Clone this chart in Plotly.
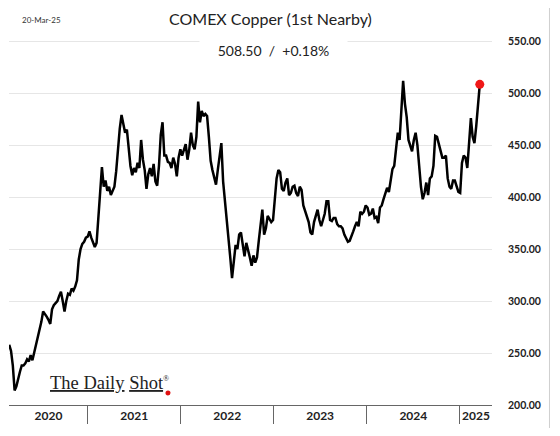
"""
COMEX Copper (1st Nearby) - weekly closes read off the Daily Shot chart.
"""

import pandas as pd
import plotly.graph_objects as go

# weekly closes (Thursday), 27-Feb-2020 .. 20-Mar-2025, US cents/lb
dates = pd.date_range("2020-02-27", "2025-03-20", freq="W-THU")
prices = [
    258, 252, 238, 214, 218, 226, 232, 238, 238, 240,
    244, 242, 248, 243, 250, 257, 265, 272, 280, 290,
    288, 285, 282, 278, 292, 296, 298, 300, 305, 309,
    300, 290, 300, 307, 306, 312, 310, 314, 320, 340,
    350, 355, 357, 361, 362, 367, 361, 357, 352, 356,
    382, 400, 429, 410, 416, 406, 410, 402, 407, 410,
    425, 450, 466, 479, 472, 462, 465, 448, 430, 421,
    428, 424, 433, 428, 455, 436, 426, 408, 422, 428,
    420, 432, 415, 411, 430, 460, 472, 440, 440, 434,
    433, 428, 438, 432, 420, 438, 446, 440, 446, 451,
    436, 446, 462, 450, 446, 458, 492, 472, 483, 478,
    480, 478, 458, 435, 426, 418, 412, 426, 440, 452,
    415, 398, 375, 360, 342, 322, 340, 354, 350, 364,
    366, 352, 343, 356, 350, 342, 334, 344, 337, 342,
    358, 375, 388, 364, 370, 382, 379, 376, 378, 400,
    418, 426, 424, 408, 406, 414, 418, 402, 404, 410,
    411, 404, 401, 410, 407, 392, 386, 382, 376, 366,
    364, 376, 382, 388, 378, 372, 378, 384, 396, 396,
    378, 377, 380, 380, 374, 372, 372, 370, 364, 360,
    357, 358, 362, 367, 372, 376, 372, 386, 384, 386,
    392, 390, 383, 384, 389, 380, 381, 375, 390, 392,
    398, 404, 409, 405, 418, 427, 430, 444, 462, 455,
    490, 512, 490, 477, 455, 450, 444, 455, 462, 450,
    425, 410, 398, 404, 414, 402, 418, 420, 430, 459,
    458, 452, 446, 438, 438, 440, 418, 410, 408, 416,
    416, 410, 405, 404, 433, 440, 438, 428, 452, 476,
    458, 452, 468, 486, 508.5,
]

year_labels = ["2020", "2021", "2022", "2023", "2024", "2025"]
year_label_pos = ["2020-07-30", "2021-07-02", "2022-07-02", "2023-07-02",
                  "2024-07-02", "2025-03-05"]
year_starts = ["2021-01-01", "2022-01-01", "2023-01-01", "2024-01-01", "2025-01-01"]
price_ticks = [200, 250, 300, 350, 400, 450, 500, 550]

last_price = prices[-1]
last_change = 0.18

fig = go.Figure()
fig.add_trace(go.Scatter(
    x=dates, y=prices, mode="lines",
    line=dict(color="black", width=2.5),
    hovertemplate="%{x|%d-%b-%y}: %{y:.2f}<extra></extra>"
))
# last print highlighted
fig.add_trace(go.Scatter(
    x=[dates[-1]], y=[prices[-1]], mode="markers",
    marker=dict(color="#f01818", size=9),
    hoverinfo="skip"
))

# page body has an 8px margin, so the figure is a bit smaller than the window
fig.update_layout(
    width=544, height=420,
    margin=dict(l=1, r=60, t=27, b=23),
    paper_bgcolor="white", plot_bgcolor="white",
    showlegend=False,
    font=dict(family="Lato", color="#222"),
    xaxis=dict(
        type="date",
        range=["2020-02-26", "2025-05-07"],
        showgrid=False, zeroline=False,
        showline=True, linecolor="#666", linewidth=1,
        tickmode="array", tickvals=year_label_pos,
        ticktext=["<b>%s</b>" % y for y in year_labels],
        ticks="", tickfont=dict(size=12, color="#222"),
        minor=dict(tickmode="array", tickvals=year_starts, ticks="outside",
                   ticklen=18, tickwidth=1, tickcolor="#666", showgrid=False),
    ),
    yaxis=dict(
        side="right",
        range=[200, 556],
        tickmode="array", tickvals=price_ticks, tickformat=".2f",
        gridcolor="#e6e6e6", gridwidth=1,
        showline=False, zeroline=False, ticks="",
        tickfont=dict(size=10.5, color="#222", weight="bold"),
        ticklabelstandoff=15,
    ),
)

fig.add_annotation(
    text="COMEX Copper (1st Nearby)", xref="paper", yref="paper",
    x=0.5424, y=1.0725, xanchor="center", yanchor="top", showarrow=False,
    borderpad=0, font=dict(size=16, color="#222")
)
fig.add_annotation(
    text="%.2f  /  +%.2f%%" % (last_price, last_change),
    xref="paper", yref="paper", x=0.5476, y=0.9595,
    xanchor="center", yanchor="middle", showarrow=False,
    bgcolor="white", width=143, height=22, borderpad=2,
    font=dict(size=14, color="#222")
)
fig.add_annotation(
    text="20-Mar-25", xref="paper", yref="paper", x=0.0228, y=1.0405,
    xanchor="left", yanchor="middle", showarrow=False,
    font=dict(size=8, color="#333")
)
# Daily Shot logo
fig.add_annotation(
    text="<u>The Daily</u> <u>Shot</u><sup><span style='font-size:8px'>®</span></sup>",
    xref="paper", yref="paper",
    x=0.0807, y=0.0595, xanchor="left", yanchor="middle", showarrow=False,
    font=dict(family="Liberation Serif", size=18.5, color="#222")
)
fig.add_shape(type="circle", xref="paper", yref="paper",
              x0=0.324, x1=0.3344, y0=0.0257, y1=0.0392,
              fillcolor="#e01010", line=dict(width=0))
# outer frame (right edge falls inside the figure)
fig.add_shape(type="rect", xref="paper", yref="paper",
              x0=-0.0176, x1=1.119, y0=-0.0824, y1=1.0932,
              line=dict(color="#cfcfcf", width=1))

fig.write_html("out.html")
